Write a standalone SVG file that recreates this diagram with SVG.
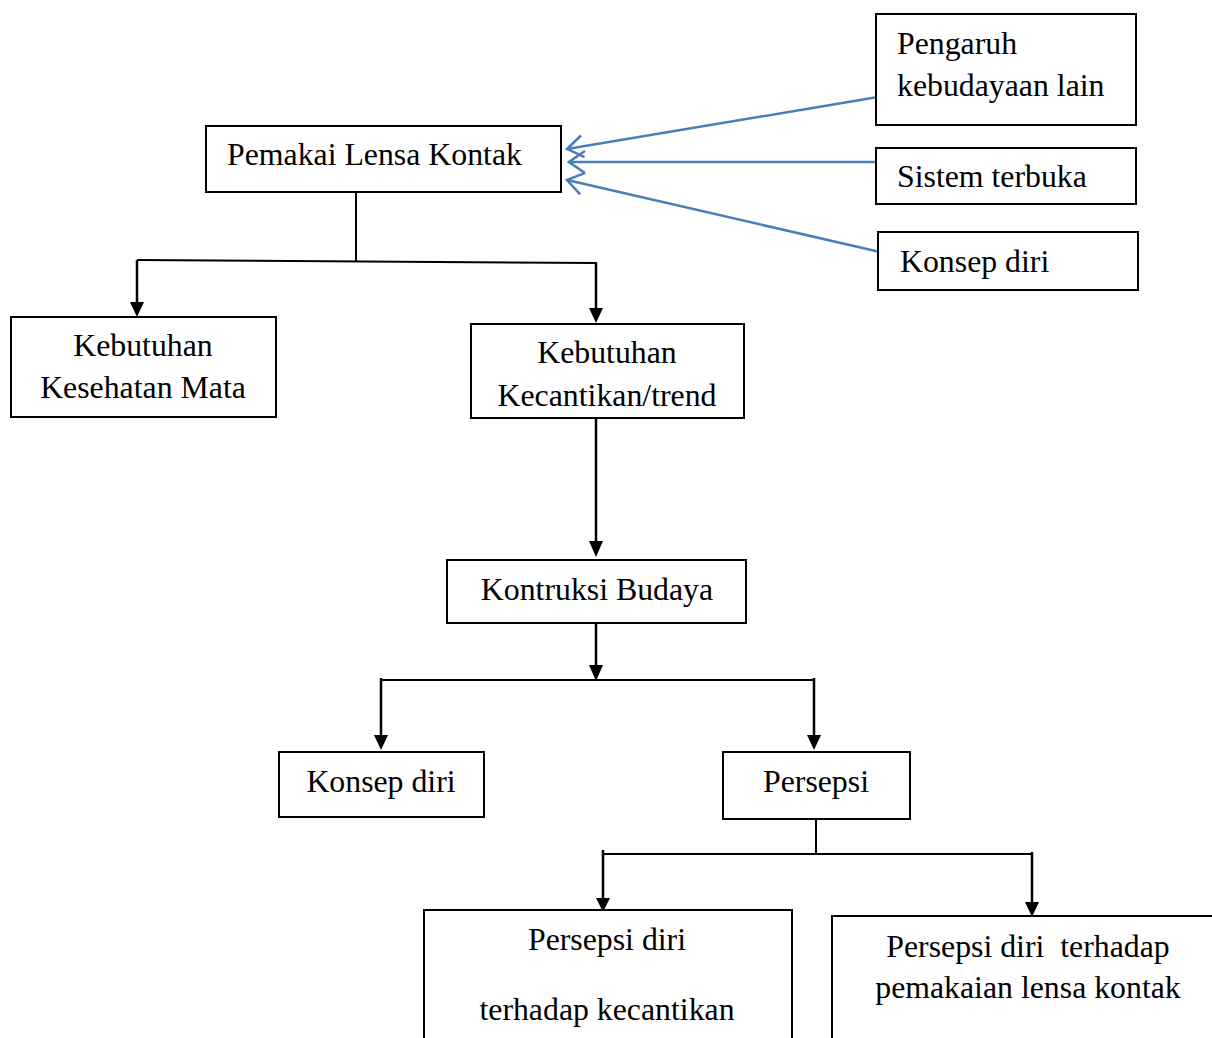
<svg xmlns="http://www.w3.org/2000/svg" width="1212" height="1038" viewBox="0 0 1212 1038">
<defs>
<style>
.box{fill:#fff;stroke:#000;stroke-width:2}
.t{font-family:"Liberation Serif","Times New Roman",serif;font-size:31.8px;fill:#000}
.c{text-anchor:middle}
.k{stroke:#000;stroke-width:2;fill:none}
.v{stroke:#000;stroke-width:2.5;fill:none}
.b{stroke:#4a7ebb;stroke-width:2.5;fill:none;marker-end:url(#oh)}
</style>
<marker id="oh" viewBox="0 0 20 26" refX="18" refY="13" markerWidth="20" markerHeight="26" markerUnits="userSpaceOnUse" orient="auto">
<path d="M2,2 L18,13 L2,24" fill="none" stroke="#4a7ebb" stroke-width="2.5"/>
</marker>
</defs>
<g id="connectors">
<line class="b" x1="878" y1="97" x2="567" y2="149"/>
<line class="b" x1="876" y1="162" x2="569" y2="162"/>
<line class="b" x1="880" y1="252" x2="567" y2="180"/>
<polyline class="k" points="356,192 356,262"/>
<polyline class="k" points="137,260 597,263"/>
<path class="v" d="M137,260 V302"/>
<path d="M130,302 L144,302 L137,317 Z"/>
<path class="v" d="M596,263 V308"/>
<path d="M589,308 L603,308 L596,323 Z"/>
<path class="v" d="M596,418 V541"/>
<path d="M589,541 L603,541 L596,557 Z"/>
<path class="v" d="M596,623 V665"/>
<path d="M589,665 L603,665 L596,681 Z"/>
<polyline class="k" points="381,680 814,680"/>
<path class="v" d="M381,678 V735"/>
<path d="M374,735 L388,735 L381,750 Z"/>
<path class="v" d="M814,678 V735"/>
<path d="M807,735 L821,735 L814,750 Z"/>
<polyline class="k" points="816,815 816,854"/>
<polyline class="k" points="603,854 1032,854"/>
<path class="v" d="M603,850 V898"/>
<path d="M596,898 L610,898 L603,912 Z"/>
<path class="v" d="M1032,852 V902"/>
<path d="M1025,902 L1039,902 L1032,917 Z"/>
</g>
<g id="pemakai"><rect class="box" x="206" y="126" width="355" height="66"/><text class="t" x="227" y="165">Pemakai Lensa Kontak</text></g>
<g id="pengaruh"><rect class="box" x="876" y="14" width="260" height="111"/><text class="t" x="897" y="54">Pengaruh</text><text class="t" x="897" y="96">kebudayaan lain</text></g>
<g id="sistem"><rect class="box" x="876" y="148" width="260" height="56"/><text class="t" x="897" y="187">Sistem terbuka</text></g>
<g id="konsep-top"><rect class="box" x="878" y="232" width="260" height="58"/><text class="t" x="900" y="272">Konsep diri</text></g>
<g id="kesehatan"><rect class="box" x="11" y="317" width="265" height="100"/><text class="t c" x="143" y="356">Kebutuhan</text><text class="t c" x="143" y="398">Kesehatan Mata</text></g>
<g id="kecantikan"><rect class="box" x="471" y="324" width="273" height="94"/><text class="t c" x="607" y="363">Kebutuhan</text><text class="t c" x="607" y="406">Kecantikan/trend</text></g>
<g id="kontruksi"><rect class="box" x="447" y="560" width="299" height="63"/><text class="t c" x="597" y="600">Kontruksi Budaya</text></g>
<g id="konsep"><rect class="box" x="279" y="752" width="205" height="65"/><text class="t c" x="381" y="792">Konsep diri</text></g>
<g id="persepsi"><rect class="box" x="723" y="752" width="187" height="67"/><text class="t c" x="816" y="792">Persepsi</text></g>
<g id="persepsi-kecantikan"><path class="box" d="M424,1040 V910 H792 V1040"/><text class="t c" x="607" y="950">Persepsi diri</text><text class="t c" x="607" y="1020">terhadap kecantikan</text></g>
<g id="persepsi-lensa"><path class="box" d="M832,1040 V916 H1214"/><text class="t c" x="1028" y="957" xml:space="preserve">Persepsi diri  terhadap</text><text class="t c" x="1028" y="998">pemakaian lensa kontak</text></g>
</svg>
